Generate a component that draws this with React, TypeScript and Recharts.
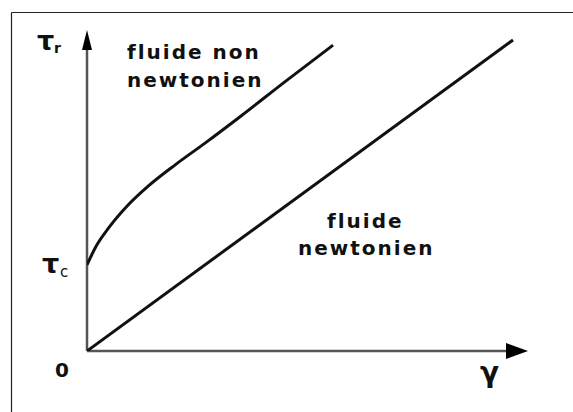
import React from "react";
import { LineChart, Line, XAxis, YAxis, ReferenceLine, ReferenceDot } from "recharts";

// Newtonian fluid: straight line through the origin
const newtonX = [0, 96.6];
const newtonY = [0, 96.9];

// Non-Newtonian fluid: starts at the yield stress tau_c, curves, then nearly linear
const nonNewtonX = [0, 2, 5, 9, 14, 20, 27, 35, 45, 55.8];
const nonNewtonY = [26.8, 32.5, 38.5, 45.0, 51.5, 58.0, 65.0, 73.3, 84.0, 95.3];

const axisMax = 100;

const newtonData = newtonX.map((x, i) => ({ x, y: newtonY[i] }));
const nonNewtonData = nonNewtonX.map((x, i) => ({ x, y: nonNewtonY[i] }));

const W = 573;
const H = 412;

const upArrow = (props: any) => {
  const { cx, cy } = props;
  return <polygon points={`${cx},${cy} ${cx - 5},${cy + 20} ${cx + 5},${cy + 20}`} fill="#000" />;
};
const rightArrow = (props: any) => {
  const { cx, cy } = props;
  return <polygon points={`${cx},${cy} ${cx - 22},${cy - 8} ${cx - 22},${cy + 8}`} fill="#000" />;
};

const labelFont = "'DejaVu Sans', Verdana, sans-serif";

export default function App() {
  return (
    <div style={{ position: "absolute", left: 0, top: 0, width: W, height: H, background: "#fff" }}>
      <LineChart width={W} height={H} margin={{ top: 30, right: 45, bottom: 61, left: 87 }}>
        <XAxis type="number" dataKey="x" domain={[0, axisMax]} hide allowDataOverflow />
        <YAxis type="number" dataKey="y" domain={[0, axisMax]} hide allowDataOverflow />
        <ReferenceLine
          segment={[{ x: 0, y: 0 }, { x: 0, y: 95 }]}
          stroke="#555"
          strokeWidth={2.5}
          ifOverflow="visible"
        />
        <ReferenceLine
          segment={[{ x: 0, y: 0 }, { x: 96, y: 0 }]}
          stroke="#555"
          strokeWidth={2.5}
          ifOverflow="visible"
        />
        <ReferenceDot x={0} y={axisMax} shape={upArrow} ifOverflow="visible" />
        <ReferenceDot x={axisMax} y={0} shape={rightArrow} ifOverflow="visible" />
        <Line
          data={newtonData}
          dataKey="y"
          type="linear"
          stroke="#111"
          strokeWidth={3}
          dot={false}
          isAnimationActive={false}
        />
        <Line
          data={nonNewtonData}
          dataKey="y"
          type="monotone"
          stroke="#111"
          strokeWidth={3}
          dot={false}
          isAnimationActive={false}
        />
      </LineChart>
      <svg
        width={W}
        height={H}
        style={{ position: "absolute", left: 0, top: 0, pointerEvents: "none" }}
      >
        <line x1={11.5} y1={12.5} x2={W} y2={12.5} stroke="#222" strokeWidth={1.2} />
        <line x1={11.5} y1={12.5} x2={11.5} y2={H} stroke="#222" strokeWidth={1.2} />
        <g fontFamily={labelFont} fontWeight="bold" fill="#111">
          <text x={127} y={59} fontSize={20} letterSpacing={2}>fluide non</text>
          <text x={127} y={87} fontSize={20} letterSpacing={2}>newtonien</text>
          <text x={327} y={228} fontSize={20} letterSpacing={2}>fluide</text>
          <text x={298} y={255} fontSize={20} letterSpacing={2}>newtonien</text>
          <text x={55} y={377} fontSize={20}>0</text>
          <text x={480} y={382} fontSize={28}>γ</text>
          <text x={37} y={50} fontSize={27}>τ</text>
          <text x={54} y={53} fontSize={14}>r</text>
          <text x={42} y={273} fontSize={27}>τ</text>
          <text x={60} y={277} fontSize={15} fontWeight="normal">c</text>
        </g>
      </svg>
    </div>
  );
}
